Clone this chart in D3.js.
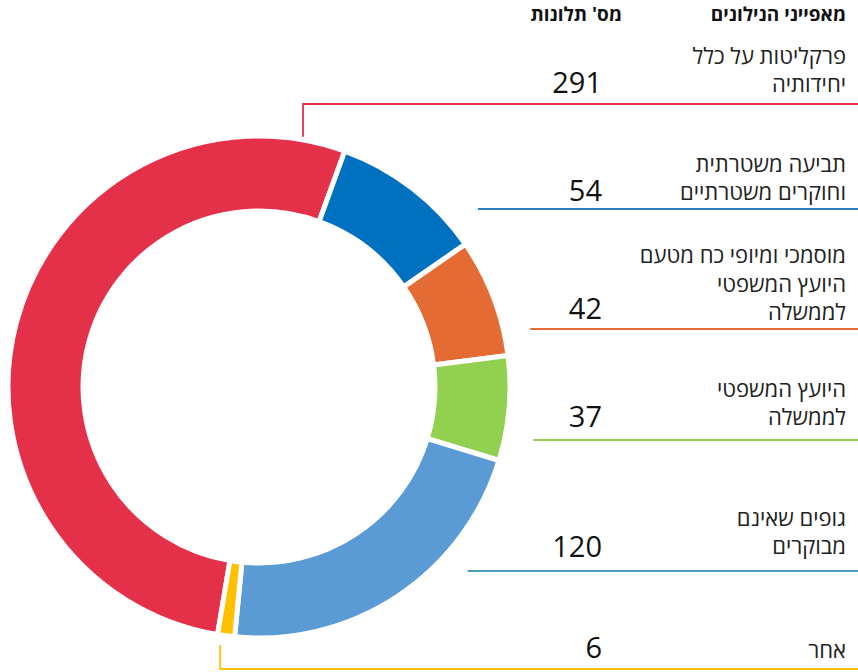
<!DOCTYPE html>
<html lang="he">
<head>
<meta charset="utf-8">
<script src="https://cdn.jsdelivr.net/npm/d3@7"></script>
<style>
  body { margin: 0; background: #fff; }
  svg { font-family: "Open Sans", "Liberation Sans", "DejaVu Sans", sans-serif; }
  .label { font-size: 22px; fill: #222; }
  .count { font-size: 29px; fill: #111; }
  .header { font-size: 19px; font-weight: bold; fill: #111; }
</style>
</head>
<body>
<div id="chart"></div>
<script>
// data
const categories = [
    ['פרקליטות על כלל', 'יחידותיה'],
    ['תביעה משטרתית', 'וחוקרים משטרתיים'],
    ['מוסמכי ומיופי כח מטעם', 'היועץ המשפטי', 'לממשלה'],
    ['היועץ המשפטי', 'לממשלה'],
    ['גופים שאינם', 'מבוקרים'],
    ['אחר']
]
const complaints = [291, 54, 42, 37, 120, 6]
const colors = ['#e5304a', '#0070c0', '#e46c34', '#92d050', '#5b9bd5', '#ffc000']
const lineColors = ['#e5304a', '#2e7cc0', '#e46c34', '#92d050', '#4a9bc0', '#ffc000']
const headers = ['מאפייני הנילונים', "מס' תלונות"]

// layout: separator line under each row, baseline of last label line, baseline of count
const rowLineY = [104, 209, 329, 440, 571, 669]
const labelBaseY = [92, 200, 320, 425, 554, 658]
const countBaseY = [93, 201, 319, 427, 557, 658]
const lineGap = 28.5

const width = 858, height = 672
const cx = 259, cy = 387
const outerR = 251, innerR = 176
const startAngle = 189.5 * Math.PI / 180

const svg = d3.select('#chart').append('svg')
    .attr('width', width)
    .attr('height', height)

const pie = d3.pie()
    .sort(null)
    .startAngle(startAngle)
    .endAngle(startAngle + 2 * Math.PI)

const arc = d3.arc()
    .innerRadius(innerR)
    .outerRadius(outerR)

const arcs = pie(complaints)

const g = svg.append('g')
    .attr('transform', `translate(${cx},${cy})`)

g.selectAll('path')
    .data(arcs)
    .join('path')
    .attr('d', arc)
    .attr('fill', (d, i) => colors[i])
    .attr('stroke', '#fff')
    .attr('stroke-width', 5)

// helper: x of outer ring edge at a given y (right side)
const ringX = (y, pad) => {
    const dy = y - cy
    const dx = Math.sqrt(Math.max(0, outerR * outerR - dy * dy))
    return cx + dx + pad
}

const lineStartPad = [0, 42, 27, 29, 38, 0]

// leader lines
rowLineY.forEach((y, i) => {
    let path
    if (i === 0) {
        // red: vertical from above the top of the ring
        const a = arcs[0].endAngle - 10 * Math.PI / 180
        const x0 = cx + (outerR + 3) * Math.sin(a)
        const y0 = cy - (outerR + 3) * Math.cos(a)
        path = `M${x0},${y0}V${y}H${width}`
    } else if (i === 5) {
        // yellow: vertical from below the "other" slice
        const a = (arcs[5].startAngle + arcs[5].endAngle) / 2 + 1 * Math.PI / 180
        const x0 = cx + (outerR + 10) * Math.sin(a)
        const y0 = cy - (outerR + 10) * Math.cos(a)
        path = `M${x0},${y0}V${y}H${width}`
    } else {
        path = `M${ringX(y, lineStartPad[i])},${y}H${width}`
    }
    svg.append('path')
        .attr('d', path)
        .attr('fill', 'none')
        .attr('stroke', lineColors[i])
        .attr('stroke-width', 1.8)
})

// headers
svg.append('text')
    .attr('class', 'header')
    .attr('direction', 'rtl')
    .attr('text-anchor', 'start')
    .attr('x', 846)
    .attr('y', 21)
    .text(headers[0])

svg.append('text')
    .attr('class', 'header')
    .attr('direction', 'rtl')
    .attr('text-anchor', 'start')
    .attr('x', 622)
    .attr('y', 21)
    .text(headers[1])

// labels and counts
categories.forEach((lines, i) => {
    lines.forEach((t, j) => {
        svg.append('text')
            .attr('class', 'label')
            .attr('direction', 'rtl')
            .attr('text-anchor', 'start')
            .attr('x', 846)
            .attr('y', labelBaseY[i] - (lines.length - 1 - j) * lineGap)
            .text(t)
    })
    svg.append('text')
        .attr('class', 'count')
        .attr('text-anchor', 'end')
        .attr('x', 602)
        .attr('y', countBaseY[i])
        .text(complaints[i])
})
</script>
</body>
</html>
